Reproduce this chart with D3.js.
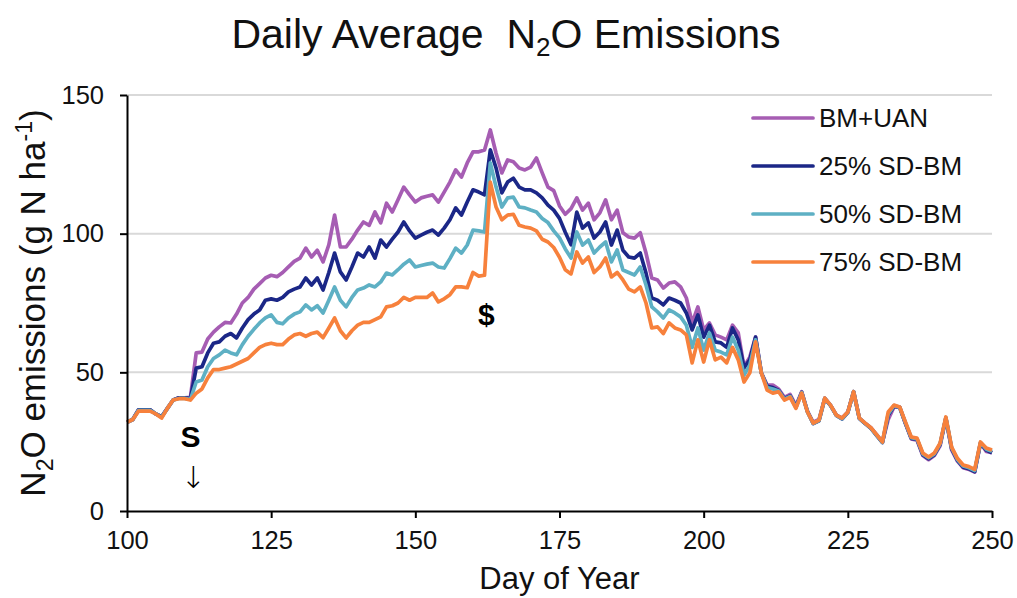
<!DOCTYPE html>
<html>
<head>
<meta charset="utf-8">
<script src="https://cdn.jsdelivr.net/npm/d3@7"></script>
<style>
  body { margin: 0; background: #fff; }
  svg { font-family: "Liberation Sans", Arial, sans-serif; }
</style>
</head>
<body>
<script>
// Days of year shown on the x axis (one reading per day)
var days = d3.range(100, 251);

// Series values, day 100 .. 250
var bmUan = [
  32,33,36.5,36.5,36.5,35,34,37,40,40.8,
  40.8,41,57,57.3,62,64.5,66.4,68,67.8,71,
  75,77,80,82,84,85,84.5,86,88,90,
  91.2,94.8,91.6,94,89.8,96,106.7,95.2,95.2,98,
  101.3,104.2,103,107.8,103.9,111,107.8,112.2,116.8,114,
  111.4,112.9,113.5,114,111.4,115,118.6,123,120.4,125.5,
  129.5,129.5,130.2,137.4,129,121.9,126.6,125.9,123.7,123,
  124,127.3,121.9,116.8,115.5,110,107,109,112.9,108.5,
  111,105,107.5,112.2,105,108.5,100.3,98.8,98.4,100.3,
  93,84,83.3,80.4,82.2,82.6,80.8,76.8,67.8,73.6,
  65.3,67.8,63.5,62.7,61.7,67,64.2,52,55.5,62.7,
  49.8,45.4,45.4,44,41,42,38,43,36,32,
  33,40.7,38.2,34.6,33.5,35.7,43,33.5,31.7,30,
  27.5,24.9,33,37.5,37.5,31.5,26,25.5,20,18.5,
  20,23.5,33.5,22,18,15.6,15,14,24.5,21.5,
  21
];
var sd25 = [
  32,33,36.5,36.5,36.5,35,34,37,40,40.8,
  40.8,40.5,51.5,52,57,60.5,61,63,64,62.4,
  66,69,71,72.5,76,76.5,76,77,79,80,
  80.8,84,81.5,84,79.7,86,93,86.2,83.3,88,
  93,91.6,95.2,91.2,97.7,95.2,98,100.6,104.2,101,
  98.4,99.5,100.5,101.3,99.5,102,105,109.3,106.7,111.4,
  115.8,115,114,130.2,123.7,114.7,118.6,120,116.8,115.8,
  115.8,114.7,112.9,110.3,108.5,105.5,100.5,96,107.8,102,
  103.9,98.4,100.6,104.2,95.9,101.3,94,91.6,91.2,93,
  85.8,76.8,76,74.3,76.8,76,75,71.4,65.3,70.7,
  62.7,67,61,60.6,59,66,61.7,51.6,54.5,62.7,
  49.8,45,44.5,43.5,40.5,41.5,37.5,42.8,35.8,31.5,
  32.5,40.5,38,34.5,33.2,35.5,43,33.3,31.5,29.8,
  27.2,24.7,34.5,37.8,37.3,31.5,26.2,25.8,20.3,18.8,
  20.3,24,33.5,22.5,18.3,15.8,15.2,14.2,24.5,22,
  21
];
var sd50 = [
  32,33,36.3,36.3,36.3,35,33.8,37,40,40.6,
  40.6,40.2,46.5,47.2,52,55,56.3,58,57,56.3,
  60,63,65.5,67.8,69.6,70.7,68,67.5,69.6,71,
  71.8,74.3,72.5,74,71.4,76,80.8,76,73.6,77,
  79.7,80.4,81.5,80.8,82.6,85.8,85.1,87,89,90.5,
  88,88.5,89,89.4,88,87.6,91,94.8,93,95.9,
  101.3,101,100.6,125.5,116.8,109.6,112.9,113.2,109.6,109.3,
  108.5,107.8,105.5,104,101,98.5,94.5,91.2,100.6,95.9,
  97.7,93,95.2,97,89.8,94.1,86.9,86,85.1,88,
  81.5,73.6,71.8,69.6,72.5,71.4,70,67,59,66,
  58,64.2,58,57.3,56.3,62.7,58,49,52.6,61.7,
  49.8,44.5,44,43.3,40.3,41.3,37.3,42.7,35.8,31.6,
  32.6,40.6,38.1,34.5,33.3,35.6,43,33.4,31.6,29.9,
  27.3,24.8,35,38,37.4,31.8,26.4,26,20.6,19.2,
  20.6,24.2,33.7,22.8,18.6,16.2,15.6,14.6,24.7,22.3,
  21.5
];
var sd75 = [
  32,33,36,36,36,35,33.5,37,40,40.5,
  40.5,40,42.5,44,48,51,51,51.5,52,53,
  54,55,57,59,60,60.5,60,60,62,63.5,
  64,63,64,64.5,62.5,66,69.6,65,62.4,65,
  67,68,68,69,70,73.6,74,75,77,76,
  77,77,77,78.6,75.4,76.5,78,80.8,80.8,80.5,
  86,84.7,85,118.6,109.6,105,106.7,107,103,102.4,
  102,101,98,97,95,91.5,87,85.5,93.4,89.4,
  91.6,86,88,91.2,84.4,86,83.3,80,79,80.8,
  75,66,66.4,64,67.8,66,65.3,63.5,53.4,61.7,
  53.7,61.7,54.5,55.5,53.4,59,54.5,46.5,49.8,61,
  49.8,43.6,42.5,43,40,41,37,42.5,35.7,31.7,
  32.8,40.7,38.2,34.6,33.5,35.7,43,33.5,31.7,30,
  27.5,24.9,35.7,38.2,37.5,32,26.7,26.3,20.9,19.5,
  20.9,24.5,33.9,23,19,16.6,16,15,24.9,22.7,
  22
];

var seriesNames = ["BM+UAN", "25% SD-BM", "50% SD-BM", "75% SD-BM"];
var seriesValues = [bmUan, sd25, sd50, sd75];
var seriesColors = ["#a65db3", "#1b2787", "#5eb0c4", "#f7813c"];

var xTicks = [100, 125, 150, 175, 200, 225, 250];
var yTicks = [0, 50, 100, 150];

var width = 1017, height = 598;
var plotLeft = 127, plotRight = 992, plotTop = 95, plotBottom = 511;

var svg = d3.select("body").append("svg")
    .attr("width", width)
    .attr("height", height);

var x = d3.scaleLinear().domain([100, 250]).range([plotLeft, plotRight]);
var y = d3.scaleLinear().domain([0, 150]).range([plotBottom, plotTop]);

// gridlines
svg.append("g")
  .selectAll("line")
  .data(yTicks.filter(function(d) { return d > 0; }))
  .enter().append("line")
    .attr("x1", plotLeft).attr("x2", plotRight)
    .attr("y1", function(d) { return y(d); })
    .attr("y2", function(d) { return y(d); })
    .attr("stroke", "#d9d9d9")
    .attr("stroke-width", 2);

// lines
var line = d3.line()
    .x(function(d, i) { return x(days[i]); })
    .y(function(d) { return y(d); });

svg.append("g")
  .selectAll("path")
  .data(seriesValues)
  .enter().append("path")
    .attr("d", line)
    .attr("fill", "none")
    .attr("stroke", function(d, i) { return seriesColors[i]; })
    .attr("stroke-width", 3.7)
    .attr("stroke-linejoin", "round");

// axes
var yAxis = svg.append("g")
    .attr("transform", "translate(" + plotLeft + ",0)")
    .call(d3.axisLeft(y).tickValues(yTicks).tickSize(7).tickSizeOuter(0).tickPadding(16));

var xAxis = svg.append("g")
    .attr("transform", "translate(0," + plotBottom + ")")
    .call(d3.axisBottom(x).tickValues(xTicks).tickSize(7).tickSizeOuter(0).tickPadding(13));

[xAxis, yAxis].forEach(function(a) {
  a.select(".domain").attr("stroke", "#000").attr("stroke-width", 2);
  a.selectAll(".tick line").attr("stroke", "#000").attr("stroke-width", 2);
  a.selectAll(".tick text")
    .attr("fill", "#111")
    .style("font-size", "25.5px")
    .style("font-family", "'Liberation Sans', Arial, sans-serif");
});

// title
var title = svg.append("text")
    .attr("x", 506)
    .attr("y", 48)
    .attr("text-anchor", "middle")
    .style("font-size", "41px")
    .attr("fill", "#111");
title.append("tspan").text("Daily Average\u00a0 N");
title.append("tspan").attr("dy", 8).style("font-size", "26px").text("2");
title.append("tspan").attr("dy", -8).text("O Emissions");

// y axis label
var ylab = svg.append("text")
    .attr("transform", "translate(45," + ((plotTop + plotBottom) / 2) + ") rotate(-90)")
    .attr("text-anchor", "middle")
    .style("font-size", "35px")
    .attr("fill", "#111");
ylab.append("tspan").text("N");
ylab.append("tspan").attr("dy", 8).style("font-size", "23px").text("2");
ylab.append("tspan").attr("dy", -8).text("O emissions (g N ha");
ylab.append("tspan").attr("dy", -13).style("font-size", "23px").text("-1");
ylab.append("tspan").attr("dy", 13).text(")");

// x axis label
svg.append("text")
    .attr("x", (plotLeft + plotRight) / 2)
    .attr("y", 589)
    .attr("text-anchor", "middle")
    .style("font-size", "31px")
    .attr("fill", "#111")
    .text("Day of Year");

// legend
var legend = svg.append("g")
  .selectAll("g")
  .data(seriesNames)
  .enter().append("g")
    .attr("transform", function(d, i) { return "translate(753," + (118 + i * 48) + ")"; });

legend.append("line")
    .attr("x1", 0).attr("x2", 60)
    .attr("stroke", function(d, i) { return seriesColors[i]; })
    .attr("stroke-width", 3.7)
    .attr("stroke-linecap", "round");

legend.append("text")
    .attr("x", 66)
    .attr("y", 9)
    .style("font-size", "26px")
    .attr("fill", "#111")
    .text(function(d) { return d; });

// annotations
svg.append("text")
    .attr("x", x(111))
    .attr("y", 447)
    .attr("text-anchor", "middle")
    .style("font-size", "30px")
    .style("font-weight", "bold")
    .text("S");

svg.append("text")
    .attr("x", x(111.5))
    .attr("y", 488)
    .attr("text-anchor", "middle")
    .style("font-size", "30px")
    .style("font-family", "'DejaVu Sans', sans-serif")
    .style("font-weight", "200")
    .text("\u2193");

svg.append("text")
    .attr("x", x(162.3))
    .attr("y", 325)
    .attr("text-anchor", "middle")
    .style("font-size", "30px")
    .style("font-weight", "bold")
    .text("$");
</script>
</body>
</html>
